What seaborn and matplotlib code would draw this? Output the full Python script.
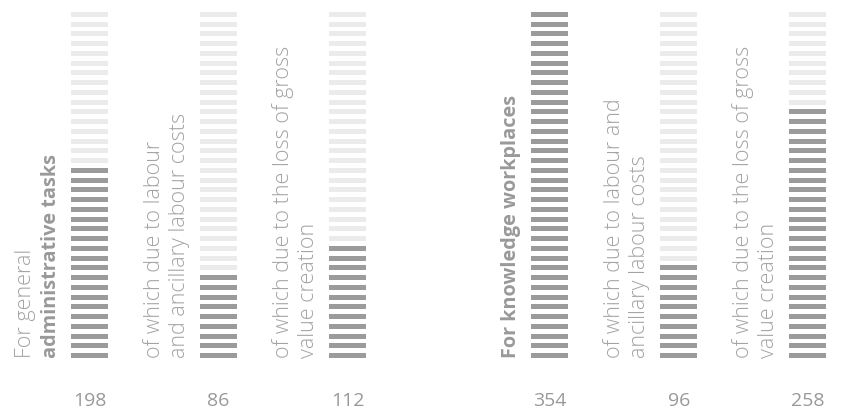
import math
import matplotlib
matplotlib.use("Agg")
import matplotlib.pyplot as plt
import numpy as np
import pandas as pd
import seaborn as sns

# Annual costs per employee (EUR) and their breakdown
values = [198, 86, 112, 354, 96, 258]
value_labels = ["198", "86", "112", "354", "96", "258"]
label_lines = [
    [("For general", "normal"), ("administrative tasks", "bold")],
    [("of which due to labour", "normal"), ("and ancillary labour costs", "normal")],
    [("of which due to the loss of gross", "normal"), ("value creation", "normal")],
    [("For knowledge workplaces", "bold")],
    [("of which due to labour and", "normal"), ("ancillary labour costs", "normal")],
    [("of which due to the loss of gross", "normal"), ("value creation", "normal")],
]
scale_max = 360
step = 10

sns.set_theme(style="white")
plt.rcParams["font.family"] = ["Open Sans", "DejaVu Sans"]

DARK = "#9b9b9b"
LIGHT = "#ebebeb"
TEXT = "#a3a3a3"

fig = plt.figure(figsize=(8.41, 4.17), dpi=100)
ax = fig.add_axes([0, 0, 1, 1])
ax.set_xlim(0, 841)
ax.set_ylim(-60.5, 367.3)
ax.axis("off")

# bar centres: two groups of three, with a wider gap between groups
pitch, group_gap, first = 129, 73.5, 89.5
centers = [first + i * pitch + (i >= 3) * group_gap for i in range(len(values))]
bar_w = 37

# one row per stripe
rows = []
for i, v in enumerate(values):
    n_dark = math.ceil(v / step)
    for k in range(scale_max // step):
        rows.append({"bar": i, "x": centers[i], "bottom": k * step,
                     "filled": k < n_dark})
stripes = pd.DataFrame(rows)

for filled, grp in stripes.groupby("filled"):
    ax.bar(grp["x"], step * 0.5, bottom=grp["bottom"], width=bar_w,
           color=DARK if filled else LIGHT, linewidth=0)

# value under each bar
for c, lab in zip(centers, value_labels):
    ax.text(c, -44, lab, ha="center", va="center", fontsize=14,
            color="#999999",
            family=["Liberation Sans Narrow", "Open Sans", "DejaVu Sans"])

# rotated labels to the left of each bar
line_gap = 25
for c, lines in zip(centers, label_lines):
    last_x = c - bar_w / 2 - 15
    n = len(lines)
    for j, (txt, wt) in enumerate(lines):
        x = last_x - (n - 1 - j) * line_gap
        bold = wt == "bold"
        ax.text(x, 0, txt, rotation=90, rotation_mode="anchor",
                ha="left", va="baseline",
                fontsize=14.3 if bold else 15.5,
                color="#999999" if bold else TEXT,
                fontweight="bold" if bold else "light")

fig.savefig("out.png", dpi=100)
